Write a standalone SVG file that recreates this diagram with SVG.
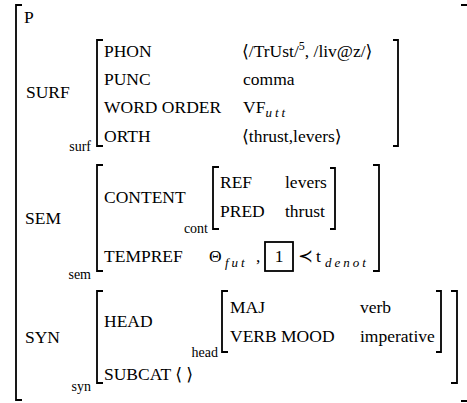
<svg xmlns="http://www.w3.org/2000/svg" width="467" height="403" viewBox="0 0 467 403">
<style>
text{font-family:"Liberation Serif","Times New Roman","DejaVu Serif",serif;font-size:17.5px;fill:#000}
.s{font-size:14px}
.i{font-style:italic;font-size:13px;letter-spacing:3px}
.b{fill:none;stroke:#000;stroke-width:1.8}
</style>
<rect width="467" height="403" fill="#fff"/>
<g id="brackets">
<path class="b" d="M22,5 H16 V400 H22"/>
<path class="b" d="M461,5 H467 M461,401 H467"/>
<path class="b" d="M103,40 H97 V146 H103"/>
<path class="b" d="M393,40 H398 V146 H393"/>
<path class="b" d="M103,165 H97 V271 H103"/>
<path class="b" d="M373,165 H379 V271 H373"/>
<path class="b" d="M219,167 H213 V229 H219"/>
<path class="b" d="M330,168 H335 V229 H330"/>
<path class="b" d="M103,291 H97 V383 H103"/>
<path class="b" d="M451,291 H457 V383 H451"/>
<path class="b" d="M228,291 H222 V352 H228"/>
<path class="b" d="M436,291 H441 V352 H436"/>
<rect class="b" x="265" y="242" width="28" height="29" stroke-width="2"/>
</g>
<g id="text">
<text x="24" y="23">P</text>
<text x="26" y="98">SURF</text>
<text x="104" y="57">PHON</text>
<text x="104" y="85">PUNC</text>
<text x="104" y="113">WORD ORDER</text>
<text x="104" y="142">ORTH</text>
<text x="242" y="57">⟨/TrUst/<tspan dy="-7" font-size="12">5</tspan><tspan dy="7">, /liv@z/⟩</tspan></text>
<text x="243" y="85">comma</text>
<text x="243" y="113">VF<tspan class="i" dy="4">utt</tspan></text>
<text x="242" y="142">⟨thrust,levers⟩</text>
<text class="s" x="91" y="151" text-anchor="end">surf</text>
<text x="25" y="224">SEM</text>
<text x="104" y="203">CONTENT</text>
<text x="104" y="262">TEMPREF</text>
<text class="s" x="208" y="233" text-anchor="end">cont</text>
<text x="220" y="188">REF</text>
<text x="220" y="217">PRED</text>
<text x="285" y="188">levers</text>
<text x="285" y="217">thrust</text>
<text x="209" y="262">Θ</text>
<text class="i" x="225" y="267">fut</text>
<text x="256" y="262">,</text>
<text x="279" y="262" text-anchor="middle">1</text>
<text x="298" y="262">≺</text>
<text x="316" y="262">t</text>
<text class="i" x="325" y="267">denot</text>
<text class="s" x="91" y="279" text-anchor="end">sem</text>
<text x="25" y="343">SYN</text>
<text x="104" y="327">HEAD</text>
<text x="104" y="380">SUBCAT ⟨ ⟩</text>
<text class="s" x="218" y="357" text-anchor="end">head</text>
<text x="230" y="313">MAJ</text>
<text x="230" y="342">VERB MOOD</text>
<text x="360" y="313">verb</text>
<text x="360" y="342">imperative</text>
<text class="s" x="91" y="391" text-anchor="end">syn</text>
</g>
</svg>
